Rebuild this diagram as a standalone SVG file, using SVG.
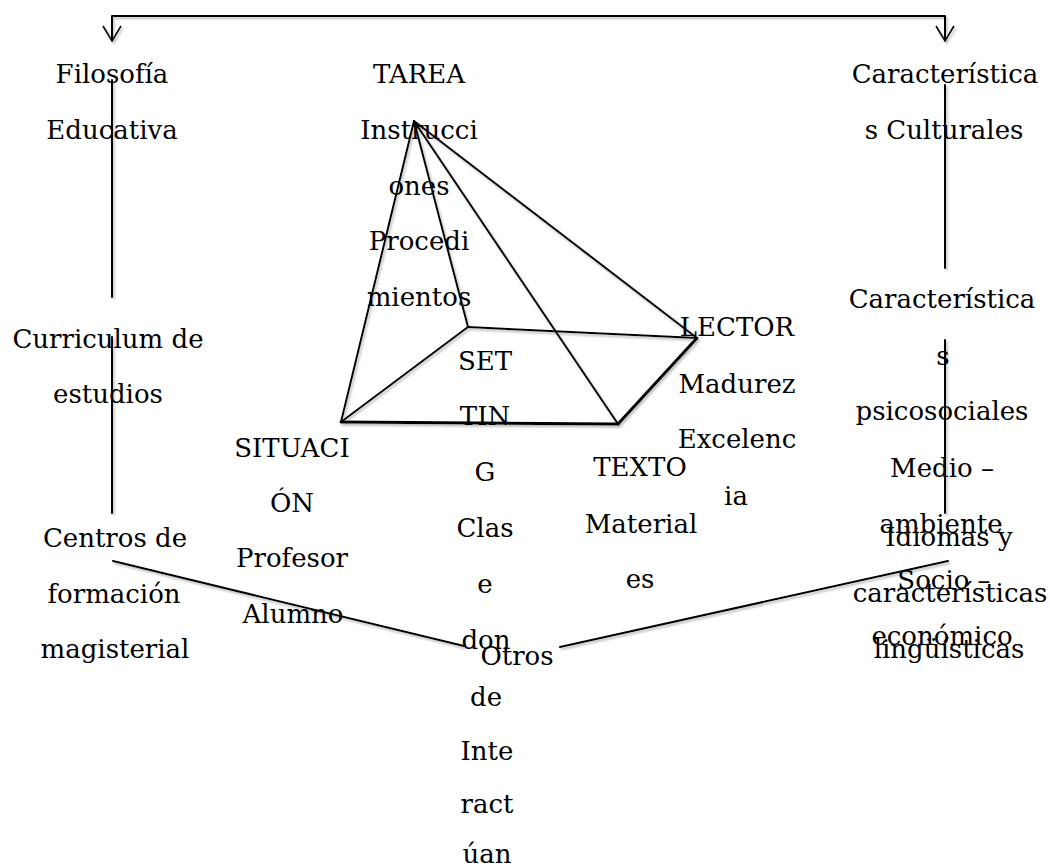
<svg xmlns="http://www.w3.org/2000/svg" width="1050" height="866" viewBox="0 0 1050 866">
<style>
text{font-family:"DejaVu Serif","Liberation Serif",serif;font-size:26px;fill:#000;text-anchor:middle}
.ln{stroke:#000;stroke-width:2;fill:none;stroke-linecap:round;stroke-linejoin:round}
.thick{stroke-width:3}
</style>
<defs>
<filter id="sh" x="-5%" y="-5%" width="110%" height="110%">
<feDropShadow dx="1.5" dy="2" stdDeviation="0.8" flood-color="#888" flood-opacity="0.6"/>
</filter>
<marker id="arr" viewBox="0 0 20 16" refX="10" refY="15" markerWidth="20" markerHeight="16" markerUnits="userSpaceOnUse" orient="auto-start-reverse">
<path d="M1,1 L10,15 L19,1" fill="none" stroke="#000" stroke-width="1.6"/>
</marker>
</defs>
<rect width="1050" height="866" fill="#fff"/>
<g id="connectors" filter="url(#sh)">
<path class="ln" d="M112,40 V16 H945 V40"/>
<path d="M103,26 L112,41 L121,26" fill="none" stroke="#000" stroke-width="1.6"/>
<path d="M936,26 L945,41 L954,26" fill="none" stroke="#000" stroke-width="1.6"/>
<line class="ln" x1="112" y1="80" x2="112" y2="297"/>
<line class="ln" x1="112" y1="337" x2="112" y2="513"/>
<line class="ln" x1="945" y1="85" x2="945" y2="268"/>
<line class="ln" x1="945" y1="340" x2="945" y2="513"/>
<line class="ln" x1="113" y1="561" x2="464" y2="646"/>
<line class="ln" x1="560" y1="647" x2="948" y2="561"/>
<g id="pyramid">
<line class="ln" x1="414" y1="121" x2="341" y2="422"/>
<line class="ln" x1="414" y1="121" x2="468" y2="327"/>
<line class="ln" x1="414" y1="121" x2="618" y2="424"/>
<line class="ln" x1="414" y1="121" x2="697" y2="338"/>
<line class="ln" x1="468" y1="327" x2="341" y2="422"/>
<line class="ln" x1="468" y1="327" x2="697" y2="338"/>
<line class="ln thick" x1="341" y1="422" x2="618" y2="424"/>
<line class="ln thick" x1="618" y1="424" x2="697" y2="338"/>
</g>
</g>
<g id="filosofia"><text x="112" y="83">Filosofía</text><text x="112" y="139">Educativa</text></g>
<g id="curriculum"><text x="108" y="348">Curriculum de</text><text x="108" y="403">estudios</text></g>
<g id="centros"><text x="115" y="547">Centros de</text><text x="114" y="603">formación</text><text x="115" y="658">magisterial</text></g>
<g id="tarea"><text x="419" y="83">TAREA</text><text x="419" y="139">Instrucci</text><text x="419" y="195">ones</text><text x="419" y="250">Procedi</text><text x="419" y="306">mientos</text></g>
<g id="situacion"><text x="292" y="457">SITUACI</text><text x="292" y="512">ÓN</text><text x="292" y="567">Profesor</text><text x="293" y="623">Alumno</text></g>
<g id="setting"><text x="485" y="370">SET</text><text x="485" y="425">TIN</text><text x="485" y="481">G</text><text x="485" y="537">Clas</text><text x="485" y="593">e</text><text x="486" y="649">don</text><text x="486" y="706">de</text><text x="487" y="760">Inte</text><text x="487" y="813">ract</text><text x="487" y="863">úan</text></g>
<g id="otros"><text x="517" y="665">Otros</text></g>
<g id="lector"><text x="737" y="336">LECTOR</text><text x="737" y="393">Madurez</text><text x="737" y="448">Excelenc</text><text x="736" y="505">ia</text></g>
<g id="texto"><text x="640" y="476">TEXTO</text><text x="641" y="533">Material</text><text x="640" y="588">es</text></g>
<g id="culturales"><text x="945" y="83">Característica</text><text x="944" y="139">s Culturales</text></g>
<g id="psicosociales"><text x="942" y="308">Característica</text><text x="943" y="365">s</text><text x="942" y="420">psicosociales</text><text x="942" y="477">Medio –</text><text x="941" y="533">ambiente</text><text x="944" y="589">Socio –</text><text x="942" y="645">económico</text></g>
<g id="idiomas"><text x="949" y="546">Idiomas y</text><text x="950" y="602">características</text><text x="949" y="658">lingüísticas</text></g>
</svg>
